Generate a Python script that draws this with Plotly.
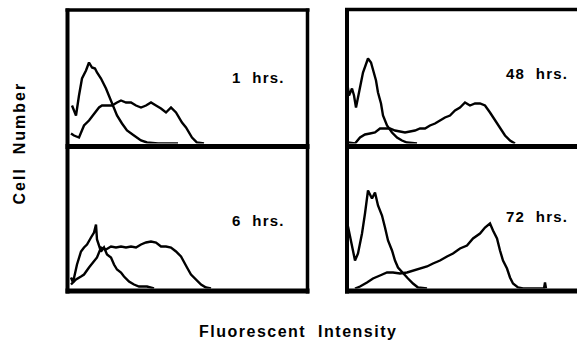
import plotly.graph_objects as go

# ---- data (channel vs. cell count) ----
# 1 hrs.
ch_1h_ctrl = [4, 8, 11, 14, 18, 21, 24, 27, 29, 33, 38, 41, 43, 46, 49, 54, 59, 66, 73, 79, 90, 110]
n_1h_ctrl = [38, 28, 48, 65, 73, 81, 76, 75, 71, 65, 55, 48, 43, 35, 28, 20, 13, 8, 3, 1, 0, 0]
ch_1h_stain = [3, 6, 11, 16, 21, 26, 31, 34, 39, 44, 49, 53, 58, 63, 68, 73, 78, 83, 88, 93, 98, 103,
               108, 111, 114, 118, 121, 124, 129, 136]
n_1h_stain = [10, 8, 6, 18, 23, 30, 36, 38, 38, 38, 41, 43, 41, 41, 38, 36, 38, 41, 38, 35, 31, 36,
              31, 26, 21, 16, 11, 6, 1, 0]

# 48 hrs.
ch_48h_ctrl = [0, 2, 5, 7, 9, 11, 14, 16, 19, 21, 24, 26, 29, 31, 34, 36, 40, 45, 50, 55, 60, 70]
n_48h_ctrl = [62, 48, 55, 48, 36, 45, 61, 71, 80, 85, 81, 73, 63, 51, 40, 28, 18, 11, 6, 3, 1, 0]
ch_48h_stain = [1, 8, 13, 18, 23, 28, 33, 38, 43, 48, 53, 58, 63, 68, 73, 78, 83, 88, 93, 98, 103,
                108, 113, 118, 123, 128, 133, 138, 143, 148, 153, 158, 163, 168]
n_48h_stain = [1, 0, 6, 9, 10, 11, 15, 15, 15, 13, 12, 11, 12, 13, 15, 15, 18, 20, 23, 26, 28,
               33, 36, 41, 38, 40, 40, 38, 31, 23, 15, 8, 3, 0]

# 6 hrs.
ch_6h_ctrl = [3, 5, 9, 13, 16, 19, 23, 26, 28, 29, 33, 36, 39, 43, 46, 49, 53, 56, 61, 66, 71, 79, 86]
n_6h_ctrl = [11, 6, 24, 37, 41, 44, 51, 56, 64, 49, 37, 41, 34, 31, 24, 19, 16, 12, 7, 4, 2, 2, 0]
ch_6h_stain = [3, 8, 13, 16, 21, 26, 29, 33, 38, 43, 48, 53, 58, 63, 68, 73, 78, 83, 88, 93, 98,
               103, 108, 113, 116, 119, 123, 128, 133, 138, 143]
n_6h_stain = [4, 9, 12, 14, 21, 27, 31, 41, 39, 42, 41, 42, 41, 42, 41, 44, 46, 47, 46, 42, 42,
              41, 37, 32, 26, 21, 14, 9, 4, 1, 0]

# 72 hrs.
ch_72h_ctrl = [1, 5, 8, 11, 15, 18, 21, 25, 28, 31, 35, 38, 41, 45, 48, 51, 56, 61, 66, 71, 80]
n_72h_ctrl = [62, 41, 28, 35, 55, 75, 98, 90, 96, 83, 73, 61, 48, 38, 28, 21, 15, 10, 5, 1, 0]
ch_72h_stain = [8, 13, 20, 26, 33, 40, 46, 53, 60, 66, 73, 80, 86, 93, 100, 106, 113, 120, 126, 133,
                138, 143, 146, 150, 153, 156, 160, 163, 166, 171, 176, 197, 198, 199]
n_72h_stain = [0, 2, 6, 10, 13, 16, 16, 15, 16, 18, 20, 22, 25, 28, 32, 35, 40, 43, 50, 55,
               61, 65, 58, 50, 38, 28, 20, 11, 5, 1, 0, 0, 6, 0]

panel_labels = ["1  hrs.", "48  hrs.", "6  hrs.", "72  hrs."]
x_title = "Fluorescent  Intensity"
y_title = "Cell  Number"

# ---- layout helpers (pixel -> paper) ----
W, H = 577, 346
def px(x):
    return x / W
def py(y):
    return 1 - y / H

fig = go.Figure()
line = dict(color="black", width=2.4)

series = [
    (ch_1h_ctrl, n_1h_ctrl, "x", "y"), (ch_1h_stain, n_1h_stain, "x", "y"),
    (ch_48h_ctrl, n_48h_ctrl, "x2", "y2"), (ch_48h_stain, n_48h_stain, "x2", "y2"),
    (ch_6h_ctrl, n_6h_ctrl, "x3", "y3"), (ch_6h_stain, n_6h_stain, "x3", "y3"),
    (ch_72h_ctrl, n_72h_ctrl, "x4", "y4"), (ch_72h_stain, n_72h_stain, "x4", "y4"),
]
for xs, ys, xa, ya in series:
    fig.add_trace(go.Scatter(x=xs, y=ys, mode="lines", line=line, xaxis=xa, yaxis=ya,
                             showlegend=False, hoverinfo="skip"))

ax_common = dict(showgrid=False, zeroline=False, showline=False, showticklabels=False,
                 ticks="", fixedrange=True)
left_dom = [px(68), px(307)]
right_dom = [px(347), 1.0]
top_dom = [py(143.5), py(12)]
bot_dom = [py(288.5), py(152)]

fig.update_layout(
    width=W, height=H,
    margin=dict(l=0, r=0, t=0, b=0),
    paper_bgcolor="white", plot_bgcolor="rgba(0,0,0,0)",
    xaxis=dict(domain=left_dom, range=[0, 239], anchor="y", **ax_common),
    yaxis=dict(domain=top_dom, range=[0, 131.5], anchor="x", **ax_common),
    xaxis2=dict(domain=right_dom, range=[0, 230], anchor="y2", **ax_common),
    yaxis2=dict(domain=top_dom, range=[0, 131.5], anchor="x2", **ax_common),
    xaxis3=dict(domain=left_dom, range=[0, 239], anchor="y3", **ax_common),
    yaxis3=dict(domain=bot_dom, range=[0, 136.5], anchor="x3", **ax_common),
    xaxis4=dict(domain=right_dom, range=[0, 230], anchor="y4", **ax_common),
    yaxis4=dict(domain=bot_dom, range=[0, 136.5], anchor="x4", **ax_common),
    hovermode=False,
)

# frames (thick black borders)
def hline(x0, x1, y, w):
    fig.add_shape(type="line", xref="paper", yref="paper", x0=px(x0), x1=px(x1), y0=py(y), y1=py(y),
                  line=dict(color="black", width=w))
def vline(x, y0, y1, w):
    fig.add_shape(type="line", xref="paper", yref="paper", x0=px(x), x1=px(x), y0=py(y0), y1=py(y1),
                  line=dict(color="black", width=w))

# left column
hline(65.5, 309.5, 10, 3.5)
hline(65.5, 309.5, 146.5, 5)
hline(65.5, 309.5, 291, 5)
vline(67.5, 8.5, 293.5, 4)
vline(307.5, 8.5, 293.5, 3.5)
# right column
hline(345, 580, 9.5, 3.5)
hline(345, 580, 146.5, 5)
hline(345, 580, 291, 5)
vline(347, 8, 293.5, 4)

font_lbl = dict(family="Liberation Sans, Arial, sans-serif", size=15, color="black")
def sp(t, s):
    return '<span style="letter-spacing:%spx">%s</span>' % (s, t)

lbl_pos = [(258, 77), (537, 74), (258, 220), (537, 216)]
for t, (x, y) in zip(panel_labels, lbl_pos):
    fig.add_annotation(text="<b>" + sp(t, 1.2) + "</b>", xref="paper", yref="paper",
                       x=px(x), y=py(y), showarrow=False, font=font_lbl,
                       xanchor="center", yanchor="middle")

fig.add_annotation(text="<b>" + sp(x_title, 1.5) + "</b>", xref="paper", yref="paper",
                   x=px(298), y=py(331), showarrow=False,
                   font=dict(family="Liberation Sans, Arial, sans-serif", size=16, color="black"),
                   xanchor="center", yanchor="middle")
fig.add_annotation(text="<b>" + sp(y_title, 2) + "</b>", xref="paper", yref="paper",
                   x=px(19), y=py(143.5), showarrow=False, textangle=-90,
                   font=dict(family="Liberation Sans, Arial, sans-serif", size=16, color="black"),
                   xanchor="center", yanchor="middle")

fig.write_html("out.html", config={"displayModeBar": False, "staticPlot": True},
               post_script="document.body.style.margin='0';document.body.style.overflow='hidden';")
